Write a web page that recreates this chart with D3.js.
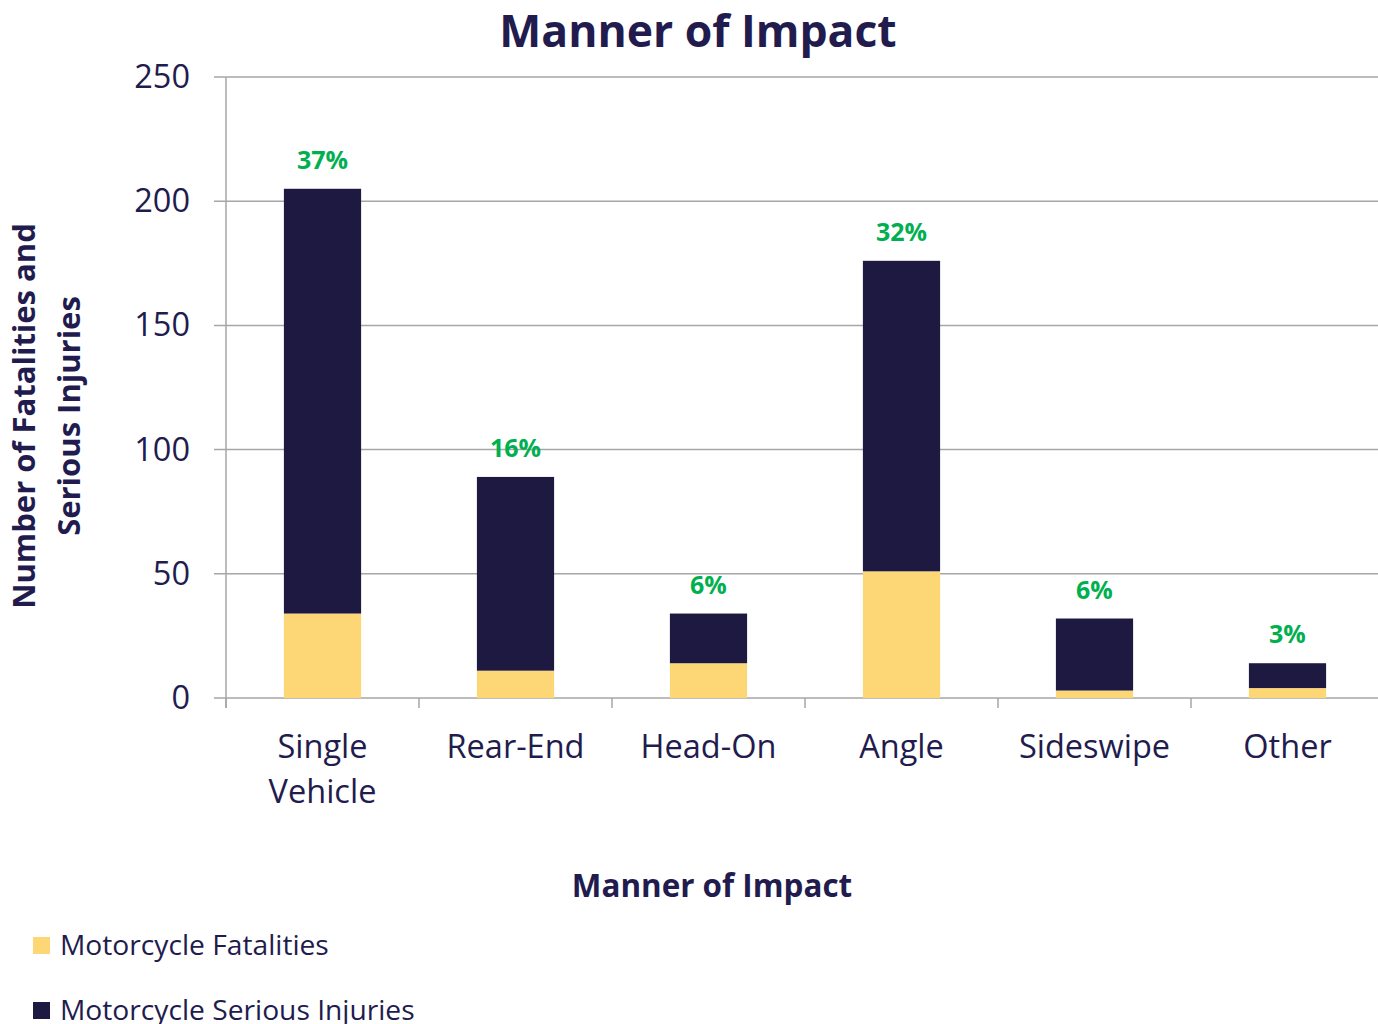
<!DOCTYPE html>
<html>
<head>
<meta charset="utf-8">
<script src="https://cdn.jsdelivr.net/npm/d3@7"></script>
<style>
  body { margin: 0; background: #fff; }
  text { font-family: "Open Sans", sans-serif; }
</style>
</head>
<body>
<script>
// chart data
var categories = ["Single Vehicle", "Rear-End", "Head-On", "Angle", "Sideswipe", "Other"];
var fatalities = [34, 11, 14, 51, 3, 4];
var seriousInjuries = [171, 78, 20, 125, 29, 10];
var shareLabels = ["37%", "16%", "6%", "32%", "6%", "3%"];
var yTicks = [0, 50, 100, 150, 200, 250];
var seriesNames = ["Motorcycle Fatalities", "Motorcycle Serious Injuries"];

var W = 1378, H = 1024;
var margin = {top: 77, right: 0, bottom: 326, left: 226};
var width = W - margin.left - margin.right,   // visible plot width
    height = H - margin.top - margin.bottom,
    bandWidth = 1158;                          // category axis runs a bit past the edge

var navy = "#1e1941", yellow = "#fdd675", textCol = "#221c4e", green = "#00b050", gridCol = "#a6a6a6";

var svg = d3.select("body").append("svg")
    .attr("width", W)
    .attr("height", H);

var g = svg.append("g")
    .attr("transform", "translate(" + margin.left + "," + margin.top + ")");

var x = d3.scaleBand()
    .domain(categories)
    .range([0, bandWidth])
    .paddingInner(0.6)
    .paddingOuter(0.3);

var y = d3.scaleLinear()
    .domain([0, 250])
    .range([height, 0]);

// gridlines
g.append("g")
    .selectAll("line")
    .data(yTicks)
    .enter().append("line")
      .attr("x1", -12)
      .attr("x2", width)
      .attr("y1", function(d) { return y(d); })
      .attr("y2", function(d) { return y(d); })
      .attr("stroke", gridCol)
      .attr("stroke-width", 1.5);

// y axis labels
var yAxis = g.append("g")
    .call(d3.axisLeft(y).tickValues(yTicks).tickSize(0).tickPadding(36));
yAxis.select(".domain").remove();
yAxis.selectAll("text")
    .attr("fill", textCol)
    .style("font-size", "32.5px")
    .style("font-family", "'Open Sans', sans-serif");

// left axis line
g.append("line")
    .attr("x1", 0).attr("x2", 0)
    .attr("y1", 0).attr("y2", height + 10)
    .attr("stroke", gridCol)
    .attr("stroke-width", 1.5);

// category ticks between bands
g.append("g")
    .selectAll("line")
    .data(categories)
    .enter().append("line")
      .attr("x1", function(d) { return x(d) - x.step() * 0.3; })
      .attr("x2", function(d) { return x(d) - x.step() * 0.3; })
      .attr("y1", height)
      .attr("y2", height + 10)
      .attr("stroke", gridCol)
      .attr("stroke-width", 1.5);

// stacked data
var rows = categories.map(function(c, i) {
  return {cat: c, fatal: fatalities[i], serious: seriousInjuries[i], label: shareLabels[i]};
});
var stack = d3.stack().keys(["fatal", "serious"]);
var layers = stack(rows);
var colors = [yellow, navy];

g.selectAll(".layer")
    .data(layers)
    .enter().append("g")
      .attr("class", "layer")
      .attr("fill", function(d, i) { return colors[i]; })
    .selectAll("rect")
    .data(function(d) { return d; })
    .enter().append("rect")
      .attr("x", function(d) { return x(d.data.cat); })
      .attr("width", x.bandwidth())
      .attr("y", function(d) { return y(d[1]); })
      .attr("height", function(d) { return y(d[0]) - y(d[1]); });

// percent labels
g.selectAll(".pct")
    .data(rows)
    .enter().append("text")
      .attr("class", "pct")
      .attr("x", function(d) { return x(d.cat) + x.bandwidth() / 2; })
      .attr("y", function(d) { return y(d.fatal + d.serious) - 20; })
      .attr("text-anchor", "middle")
      .attr("fill", green)
      .style("font-weight", "bold")
      .style("font-size", "25px")
      .text(function(d) { return d.label; });

// category labels
var catLabels = g.selectAll(".cat")
    .data(categories)
    .enter().append("text")
      .attr("class", "cat")
      .attr("text-anchor", "middle")
      .attr("fill", textCol)
      .style("font-size", "32.5px")
      .attr("transform", function(d) { return "translate(" + (x(d) + x.bandwidth() / 2) + "," + (height + 60) + ")"; });

catLabels.each(function(d) {
  var words = d.split(" ");
  var t = d3.select(this);
  words.forEach(function(w, i) {
    t.append("tspan").attr("x", 0).attr("dy", i === 0 ? 0 : 45).text(w);
  });
});

// title
svg.append("text")
    .attr("x", 698)
    .attr("y", 47)
    .attr("text-anchor", "middle")
    .attr("fill", textCol)
    .style("font-weight", "bold")
    .style("font-size", "44.5px")
    .text("Manner of Impact");

// x axis title
svg.append("text")
    .attr("x", 712)
    .attr("y", 897)
    .attr("text-anchor", "middle")
    .attr("fill", textCol)
    .style("font-weight", "bold")
    .style("font-size", "31.4px")
    .text("Manner of Impact");

// y axis title
var yTitle = svg.append("text")
    .attr("transform", "translate(47,416) rotate(-90)")
    .attr("text-anchor", "middle")
    .attr("fill", textCol)
    .style("font-weight", "bold")
    .style("font-size", "31px");
yTitle.append("tspan").attr("x", 0).attr("dy", -12).text("Number of Fatalities and");
yTitle.append("tspan").attr("x", 0).attr("dy", 45).text("Serious Injuries");

// legend
var legend = svg.selectAll(".legend")
    .data(seriesNames)
    .enter().append("g")
      .attr("class", "legend")
      .attr("transform", function(d, i) { return "translate(33," + (937 + i * 65) + ")"; });

legend.append("rect")
    .attr("width", 17)
    .attr("height", 17)
    .attr("fill", function(d, i) { return colors[i]; });

legend.append("text")
    .attr("x", 27)
    .attr("y", 18)
    .attr("fill", textCol)
    .style("font-size", "28.2px")
    .text(function(d) { return d; });
</script>
</body>
</html>
